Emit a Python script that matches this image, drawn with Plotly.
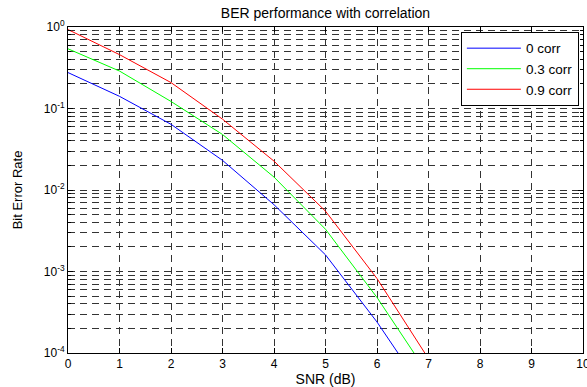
import plotly.graph_objects as go

snr_db = [0, 1, 2, 3, 4, 5, 6, 7]
ber_corr_0 = [0.276, 0.141, 0.064, 0.0231, 0.0066, 0.0016, 2.4e-4, 2.8e-5]
ber_corr_03 = [0.54, 0.288, 0.122, 0.048, 0.0144, 0.0033, 4.8e-4, 5.4e-5]
ber_corr_09 = [0.93, 0.458, 0.208, 0.074, 0.0226, 0.0055, 8.2e-4, 8.5e-5]

series_names = ["0 corr", "0.3 corr", "0.9 corr"]
series_colors = ["#0000ff", "#00ff00", "#ff0000"]

x_ticks = list(range(0, 11))
y_exponents = [-4, -3, -2, -1, 0]
y_tickvals = [10.0 ** e for e in y_exponents]
y_ticktext = [f"10<sup>{e}</sup>" for e in y_exponents]
y_minor = [k * 10.0 ** e for e in range(-4, 0) for k in range(2, 10)]

FONT = "Liberation Sans, Arial, Helvetica, sans-serif"
GRID = "#333333"
DASH = "7px,5px"

fig = go.Figure()
for name, ys, col in zip(series_names, [ber_corr_0, ber_corr_03, ber_corr_09], series_colors):
    fig.add_trace(go.Scatter(x=snr_db, y=ys, mode="lines", name=name,
                             line=dict(color=col, width=1)))

fig.update_layout(
    width=587, height=387,
    margin=dict(l=68, r=4, t=27, b=34, autoexpand=False),
    paper_bgcolor="white", plot_bgcolor="white",
    font=dict(family=FONT, size=12, color="black"),
    title=dict(text="BER performance with correlation", x=(68 + 583) / 2 / 587, xanchor="center",
               y=1 - 13 / 387, yanchor="middle", yref="container",
               font=dict(size=14, family=FONT, color="black")),
    legend=dict(x=0.992, xanchor="right", y=0.985, yanchor="top",
                bgcolor="white", bordercolor="black", borderwidth=1,
                font=dict(size=13.5, family=FONT), tracegroupgap=0, itemwidth=54),
    showlegend=True,
)

fig.update_xaxes(
    range=[0, 10], tickmode="array", tickvals=x_ticks, ticktext=[str(v) for v in x_ticks],
    ticks="inside", ticklen=5, tickcolor="black", showline=True, linecolor="black", linewidth=1,
    mirror="allticks", showgrid=True, gridcolor=GRID, griddash=DASH, gridwidth=1,
    zeroline=False, tickfont=dict(size=12), ticklabeloverflow="allow", automargin=False,
    title=dict(text="SNR (dB)", font=dict(size=14), standoff=6),
)

fig.update_yaxes(
    type="log", range=[-4, 0], tickmode="array", tickvals=y_tickvals, ticktext=y_ticktext,
    ticks="inside", ticklen=5, tickcolor="black", showline=True, linecolor="black", linewidth=1,
    mirror="allticks", showgrid=True, gridcolor=GRID, griddash=DASH, gridwidth=1,
    zeroline=False, tickfont=dict(size=12), automargin=False,
    minor=dict(tickmode="array", tickvals=y_minor, ticks="inside", ticklen=3, tickcolor="black",
               showgrid=True, gridcolor=GRID, griddash=DASH, gridwidth=1),
    title=dict(text="Bit Error Rate", font=dict(size=13), standoff=18),
)

fig.write_html("out.html")
